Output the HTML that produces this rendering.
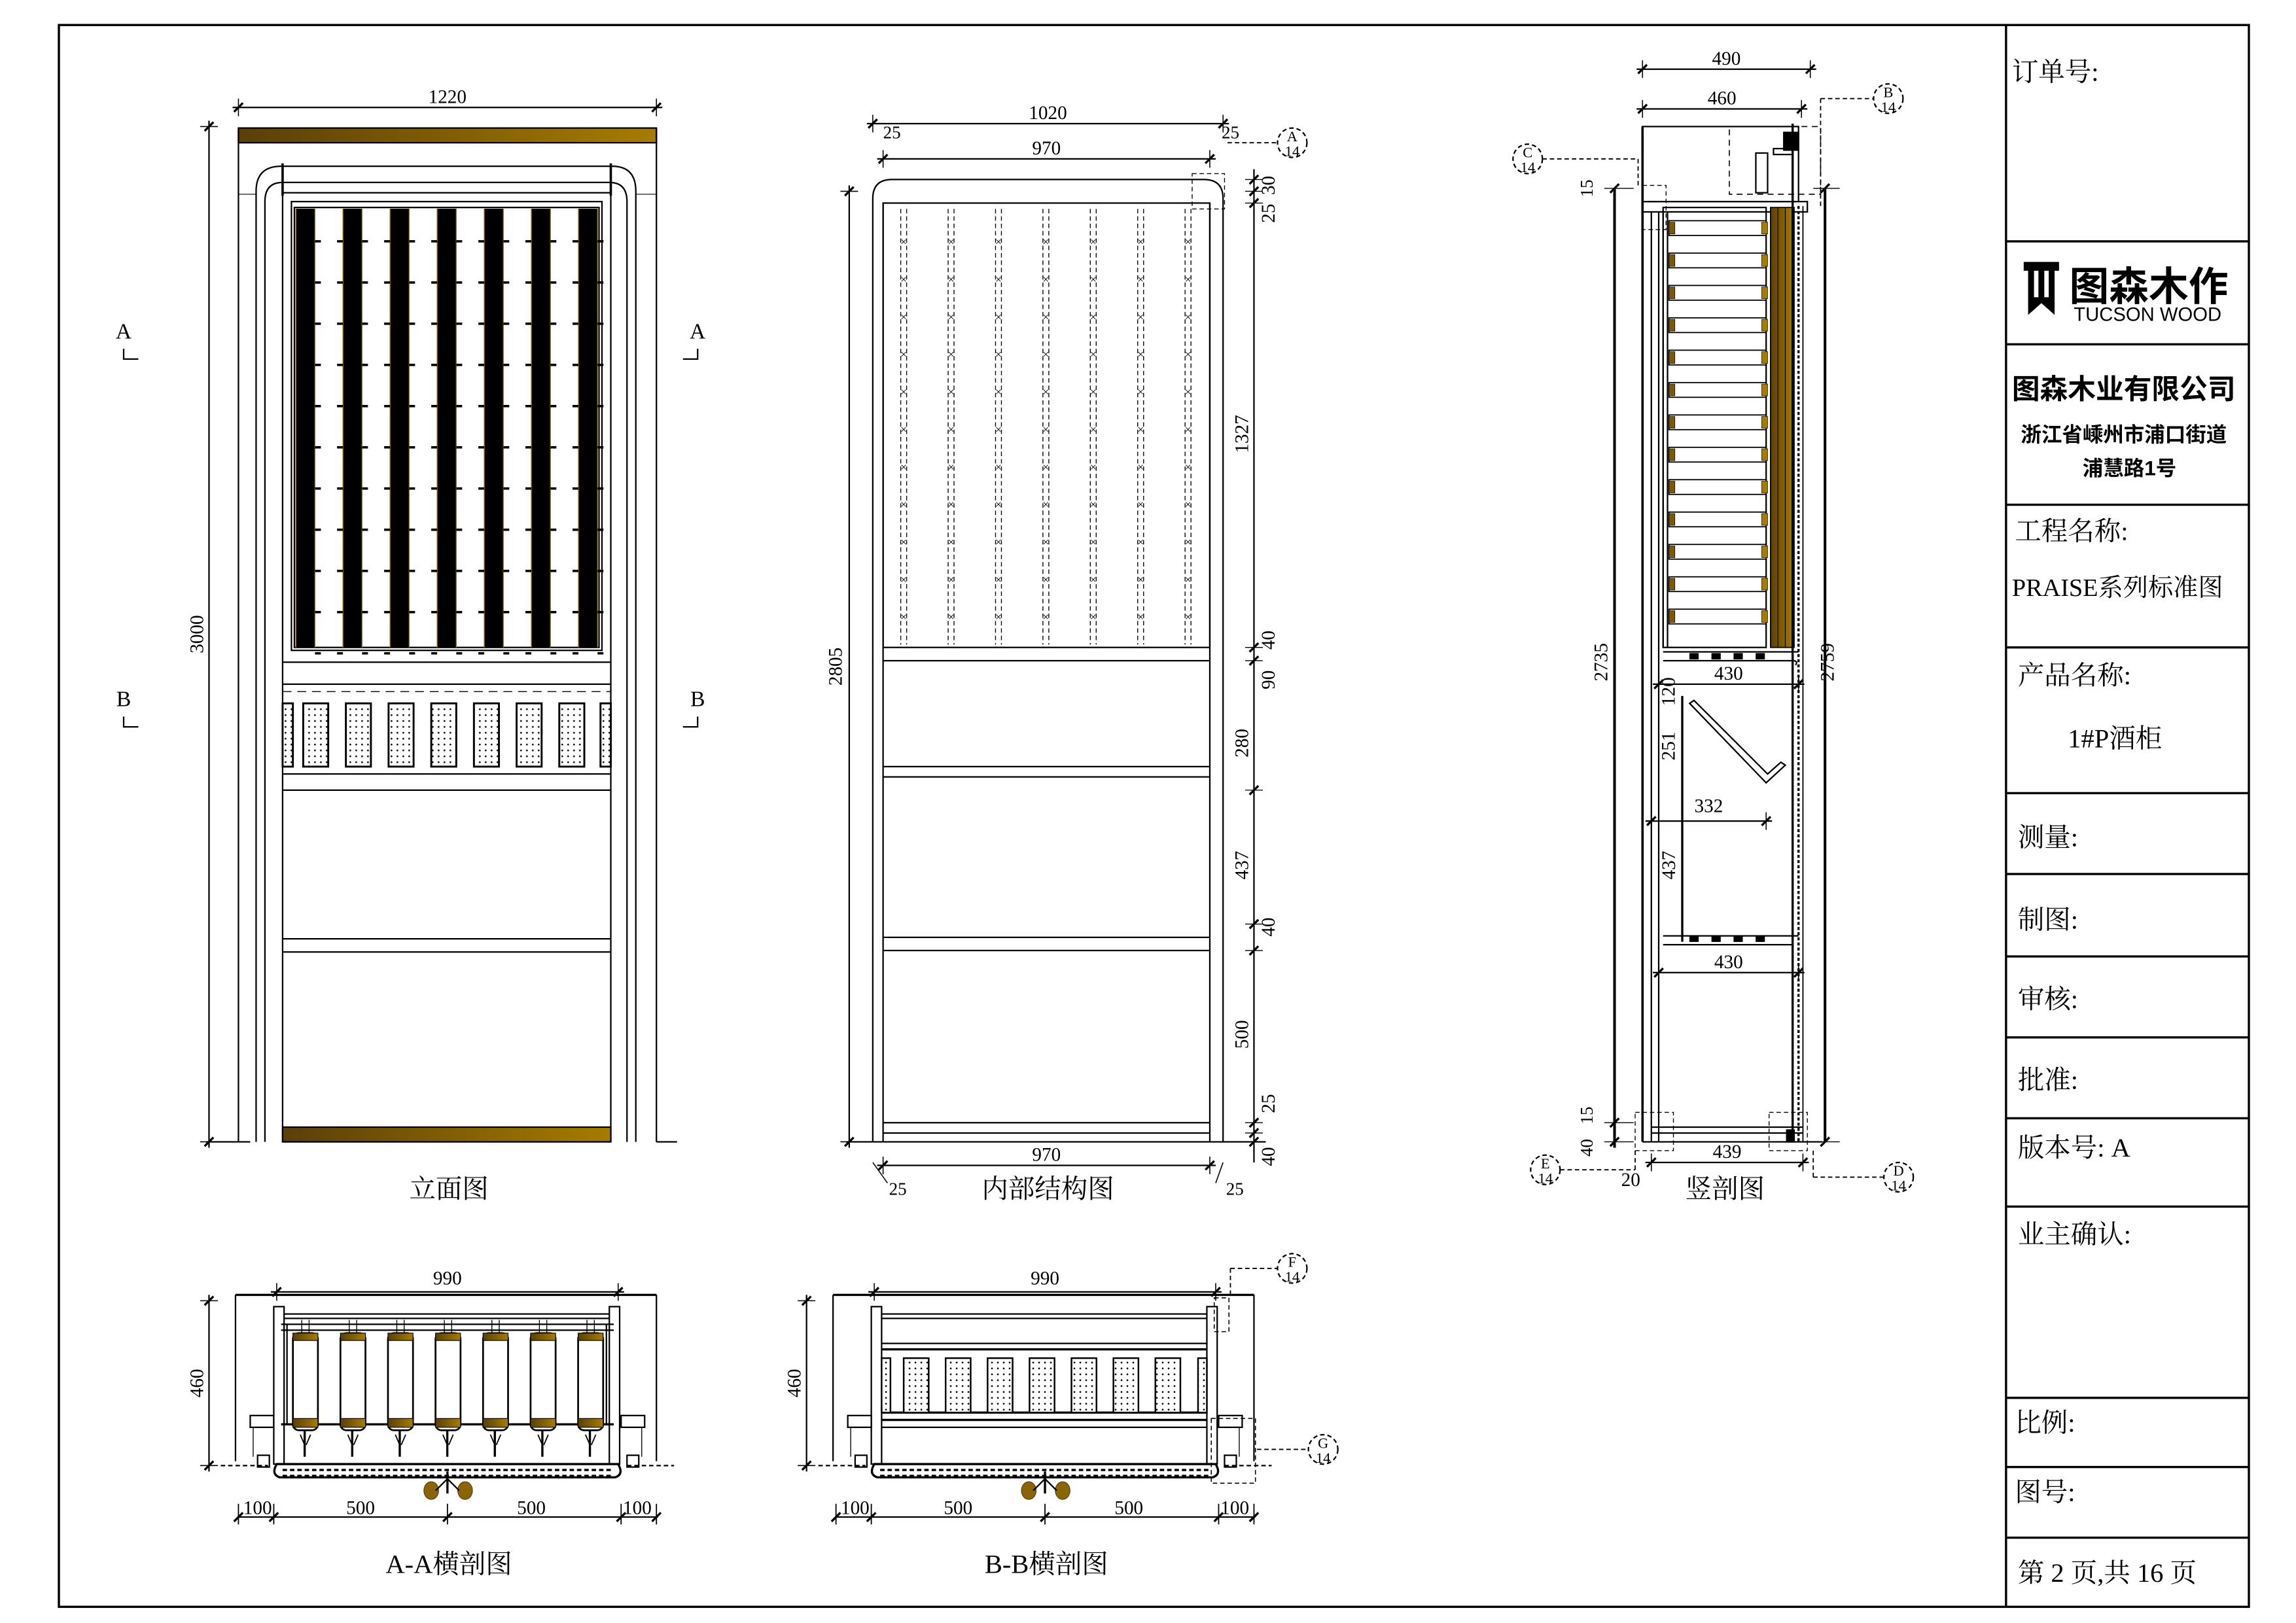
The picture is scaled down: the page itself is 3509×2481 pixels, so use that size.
<!DOCTYPE html>
<html><head><meta charset="utf-8"><style>
html,body{margin:0;padding:0;background:#fff}
svg{display:block}
text{font-family:"Liberation Serif","Noto Serif CJK SC",serif;fill:#000}
.cn{font-family:"Liberation Sans","Noto Sans CJK SC",sans-serif}
.sf{font-family:"Liberation Serif","Noto Serif CJK SC",serif}
</style></head><body>
<svg id="s" xmlns="http://www.w3.org/2000/svg" width="3509" height="2481" viewBox="0 0 1560 1103">
<defs>
<linearGradient id="g" x1="0" x2="1"><stop offset="0" stop-color="#5a3f0a"/><stop offset="1" stop-color="#a67c00"/></linearGradient>
<pattern id="dots" width="4" height="4" patternUnits="userSpaceOnUse"><rect width="4" height="4" fill="#fff"/><circle cx="2" cy="2" r="0.6" fill="#000"/></pattern>
</defs>
<rect x="0" y="0" width="1560" height="1103" fill="#fff"/>
<rect x="40" y="17" width="1488" height="1075" fill="none" stroke="#000" stroke-width="1.5"/>
<line x1="1363" y1="17" x2="1363" y2="1092" stroke="#000" stroke-width="1.5"/>
<g stroke="#000" stroke-width="1.5">
<line x1="1363" y1="164" x2="1528" y2="164"/><line x1="1363" y1="234" x2="1528" y2="234"/>
<line x1="1363" y1="343" x2="1528" y2="343"/><line x1="1363" y1="440" x2="1528" y2="440"/>
<line x1="1363" y1="539" x2="1528" y2="539"/><line x1="1363" y1="594" x2="1528" y2="594"/>
<line x1="1363" y1="650" x2="1528" y2="650"/><line x1="1363" y1="705" x2="1528" y2="705"/>
<line x1="1363" y1="760" x2="1528" y2="760"/><line x1="1363" y1="820" x2="1528" y2="820"/>
<line x1="1363" y1="950" x2="1528" y2="950"/><line x1="1363" y1="997" x2="1528" y2="997"/>
<line x1="1363" y1="1045" x2="1528" y2="1045"/>
</g>
<g font-size="18">
<text x="1367" y="55" class="sf">订单号:</text>
<text x="1369" y="367" class="sf">工程名称:</text>
<text x="1367" y="405" font-size="17" class="sf">PRAISE系列标准图</text>
<text x="1371" y="465" class="sf">产品名称:</text>
<text x="1405" y="508" class="sf">1#P酒柜</text>
<text x="1371" y="575" class="sf">测量:</text>
<text x="1371" y="631" class="sf">制图:</text>
<text x="1371" y="685" class="sf">审核:</text>
<text x="1371" y="740" class="sf">批准:</text>
<text x="1371" y="786" class="sf">版本号:  A</text>
<text x="1371" y="845" class="sf">业主确认:</text>
<text x="1369" y="973" class="sf">比例:</text>
<text x="1369" y="1020" class="sf">图号:</text>
<text x="1371" y="1075" class="sf">第 2 页,共 16 页</text>
</g>
<path d="M1375 178 h24 v6 h-3 v30 l-9 -8 l-9 8 v-30 h-3z M1382 184 v18 h3 v-18z M1389 184 v18 h3 v-18z" fill="#000"/>
<text x="1406" y="204" class="cn" font-size="27" font-weight="bold">图森木作</text>
<text x="1409" y="218" class="cn" font-size="13">TUCSON WOOD</text>
<text x="1367" y="271" class="cn" font-size="19" font-weight="bold">图森木业有限公司</text>
<text x="1373" y="300" class="cn" font-size="14" font-weight="bold">浙江省嵊州市浦口街道</text>
<text x="1415" y="323" class="cn" font-size="14" font-weight="bold">浦慧路1号</text>

<g id="draw" fill="none" stroke="#000" stroke-width="1"></g>
<g id="txt" font-size="12"></g>
</svg>
<script>
var d=document.getElementById('draw'),T=document.getElementById('txt'),NS='http://www.w3.org/2000/svg';
function E(t,a,p){var e=document.createElementNS(NS,t);for(var k in a)e.setAttribute(k,a[k]);(p||d).appendChild(e);return e}
function L(x1,y1,x2,y2,w,dash){var a={x1:x1,y1:y1,x2:x2,y2:y2};if(w)a['stroke-width']=w;if(dash)a['stroke-dasharray']=dash;return E('line',a)}
function R(x,y,w,h,f,sw){var a={x:x,y:y,width:w,height:h};if(f)a.fill=f;if(sw)a['stroke-width']=sw;return E('rect',a)}
function Tx(x,y,s,sz,rot,anchor,fam){var a={x:x,y:y,'font-size':sz||12,'text-anchor':anchor||'middle'};if(rot)a.transform='rotate(-90 '+x+' '+y+')';var e=E('text',a,T);e.textContent=s;return e}
function tick(x,y){L(x-3,y+3,x+3,y-3,1.5)}
function hdim(x1,x2,y,lab,ty){L(x1-4,y,x2+4,y);L(x1,y-6,x1,y+6,0.7);L(x2,y-6,x2,y+6,0.7);tick(x1,y);tick(x2,y);if(lab)Tx((x1+x2)/2,ty||y-3,lab,13)}
function vdim(x,y1,y2,lab,tx){L(x,y1-4,x,y2+4);L(x-6,y1,x+6,y1,0.7);L(x-6,y2,x+6,y2,0.7);tick(x,y1);tick(x,y2);if(lab)Tx(tx||x-4,(y1+y2)/2,lab,13,1)}

hdim(162,446,73,'1220');
vdim(142,86,776,'3000');
R(162,87,284,10,'url(#g)');
L(162,87,162,776);L(446,87,446,776);
L(162,132,174,132,0.5);L(432,132,446,132,0.5);
E('path',{d:'M174 776 V130 Q174 113 191 113 H416 Q432 113 432 130 V776'});
E('path',{d:'M180 776 V137 Q180 124 192 124 H414 Q426 124 426 137 V776'});
L(192,111,192,133,1.6);L(415,111,415,133,1.6);
R(192,131,223,645);R(198,137,211,305);R(200,141,207,299);
for(var i=0;i<7;i++){var bx=201+i*32;R(bx,142,13,298,'#000',0.3);L(bx,142,bx,440,0.6).setAttribute('stroke','#a67c00');L(bx+13,142,bx+13,440,0.6).setAttribute('stroke','#a67c00');
 for(var j=0;j<11;j++){var yy=164+j*28;L(bx+13,yy,bx+17,yy,1.6);if(i>0)L(bx-4,yy,bx,yy,1.6);}}
L(192,450,415,450);L(192,465,415,465);
L(192,470,415,470,0.6,'6 4');
for(var i=0;i<9;i++){var w=(i==0||i==8)?7:17,x=(i==0)?192:(i==8?408:206+(i-1)*29);R(x,478,w,43,'url(#dots)',1.3)}
L(192,526,415,526);L(192,537,415,537);L(192,638,415,638);L(192,647,415,647);
R(192,766,223,10,'url(#g)');
L(140,776,170,776);L(446,776,460,776);
Tx(84,230,'A',15);E('path',{d:'M84 237 v7 h10',fill:'none'});
Tx(474,230,'A',15);E('path',{d:'M474 237 v7 h-10'});
Tx(84,480,'B',15);E('path',{d:'M84 487 v7 h10'});
Tx(474,480,'B',15);E('path',{d:'M474 487 v7 h-10'});
Tx(305,814,'立面图',18);

hdim(593,831,84,'1020');
hdim(600,822,108,'970');
Tx(606,94,'25',12);Tx(836,94,'25',12);
vdim(577,130,776,'2805',572);
E('path',{d:'M593 776 V135 Q593 122 606 122 H818 Q831 122 831 135 V776'});
L(600,138,600,776);L(822,138,822,776);R(600,138,222,302);
for(var i=0;i<7;i++){var cx=614+i*32.2;L(cx-2,142,cx-2,438,0.6,'3 2');L(cx+2,142,cx+2,438,0.6,'3 2');
 for(var j=0;j<11;j++){var yy=164+j*25.5;Tx(cx,yy+3,'×',8)}}
R(810,118,22,24,null,0.6).setAttribute('stroke-dasharray','3 2');
L(600,449,822,449);L(600,521,822,521);L(600,528,822,528);L(600,637,822,637);L(600,646,822,646);L(600,763,822,763);L(600,770,822,770);
L(575,776,860,776);
L(852,115,852,790);
[[115,'30',126],[130,'25',145],[295,'1327',295],[435,'40',435],[462,'90',462],[505,'280',505],[588,'437',588],[630,'40',630],[703,'500',703],[750,'25',750],[786,'40',786]].forEach(function(a){Tx((a[1]=='1327'||a[1]=='280'||a[1]=='437'||a[1]=='500')?848:866,a[2],a[1],13,1)});
[122,130,138,440,449,537,628,646,763,770,776].forEach(function(y){tick(852,y);L(846,y,858,y,0.6)});
hdim(600,822,792,'970');
Tx(610,812,'25',12);Tx(839,812,'25',12);
L(593,790,603,804,0.7);L(831,790,826,804,0.7);
Tx(712,814,'内部结构图',18);
E('circle',{cx:878,cy:97,r:10,'stroke-dasharray':'3 2'});Tx(878,96,'A',10);Tx(878,106,'14',10);L(834,97,868,97,0.8,'3 2');

hdim(1116,1230,47,'490');hdim(1116,1224,74,'460');
R(1116,86,106,51);L(1116,86,1116,776,1.6);
R(1116,137,112,7);L(1122,144,1122,776);L(1127,144,1127,776);L(1130,144,1130,440);L(1133,144,1133,440);
R(1130,141,70,299);
for(var j=0;j<13;j++){var yy=150+j*22;R(1134,yy,66,10,'#fff',0.8);R(1134,yy+1,4,8,'#7a5a0a',0.3);R(1197,yy+1,4,8,'#a67c00',0.3)}
R(1203,141,16,299,'url(#g)',0.8);L(1208,141,1208,440,0.5);L(1213,141,1213,440,0.5);
L(1218,84,1218,776,1.5);L(1222,140,1222,776,1.5,'2 1.5');L(1225,140,1225,776,0.8);
R(1175,86,62,46,null,0.7).setAttribute('stroke-dasharray','4 3');
R(1212,90,10,12,'#000');R(1205,101,13,4);R(1193,104,8,27);
E('path',{d:'M1130 443 H1222 M1130 449 H1218 Q1222 449 1220 452'});
for(var k=0;k<4;k++){R(1148+k*15,444,6,4,'#000',0.3);R(1148+k*15,636,6,4,'#000',0.3)}
E('path',{d:'M1130 636 H1222 M1130 642 H1218'});
hdim(1127,1222,465,'430');hdim(1127,1222,661,'430');
E('path',{d:'M1148 478 L1200 532 L1213 520 L1210 518 L1201 526 L1151 476 Z'});
L(1143,473,1143,640,1.5);Tx(1138,470,'120',13,1);Tx(1138,507,'251',13,1);Tx(1138,588,'437',13,1);
hdim(1122,1200,558,'332',552);
L(1122,766,1225,766);L(1122,770,1225,770);L(1116,776,1238,776);
R(1214,768,5,8,'#000');
L(1097,128,1097,780,1.8);Tx(1092,450,'2735',13,1);
L(1240,128,1240,776,1.8);Tx(1246,450,'2759',13,1);
[128,763,776].forEach(function(y){tick(1097,y);L(1090,y,1110,y,0.6)});
tick(1240,128);tick(1240,776);L(1232,128,1250,128,0.6);L(1232,776,1250,776,0.6);
Tx(1082,128,'15',12,1);Tx(1082,758,'15',12,1);Tx(1082,780,'40',12,1);
hdim(1122,1225,790,'439');Tx(1108,806,'20',13);
Tx(1172,814,'竖剖图',18);
R(1116,126,16,30,null,0.6).setAttribute('stroke-dasharray','3 2');
R(1111,756,26,26,null,0.6).setAttribute('stroke-dasharray','3 2');
R(1202,756,26,26,null,0.6).setAttribute('stroke-dasharray','3 2');
function bub(cx,cy,l){E('circle',{cx:cx,cy:cy,r:10,'stroke-dasharray':'3 2'});Tx(cx,cy-1,l,10);Tx(cx,cy+9,'14',10)}
bub(1283,67,'B');L(1237,67,1273,67,0.8,'3 2');L(1237,67,1237,142,0.8,'3 2');
bub(1038,108,'C');L(1048,108,1113,108,0.8,'3 2');L(1113,108,1113,126,0.8,'3 2');
bub(1050,795,'E');L(1060,795,1111,795,0.8,'3 2');L(1111,782,1111,795,0.8,'3 2');
bub(1290,800,'D');L(1232,800,1280,800,0.8,'3 2');L(1232,782,1232,800,0.8,'3 2');

function sect(ox,aa){
 hdim(ox+26,ox+258,878,'990',873);
 vdim(ox-20,884,996,'460');
 L(ox-2,880,ox+284,880,1.5);L(ox-2,880,ox-2,993);L(ox+284,880,ox+284,993);
 R(ox+24,888,7,107);R(ox+252,888,7,107);
 L(ox+31,893,ox+252,893);L(ox+31,896,ox+252,896);
 R(ox+8,962,16,8);R(ox+260,962,16,8);L(ox+10,970,ox+10,990,0.6);L(ox+274,970,ox+274,990,0.6);
 R(ox+13,989,8,8);R(ox+264,989,8,8);
 L(ox-12,996,ox+20,996,1,'3 2');L(ox+264,996,ox+296,996,1,'3 2');
 E('path',{d:'M'+(ox+26)+' 995 H'+(ox+258)+' Q'+(ox+262)+' 1002 '+(ox+256)+' 1004 H'+(ox+28)+' Q'+(ox+22)+' 1002 '+(ox+26)+' 995 Z','stroke-width':1.5});
 L(ox+30,999,ox+254,999,1.5,'3 2');L(ox+30,1003,ox+254,1003,1.5,'3 2');
 if(aa){L(ox+29,900,ox+255,900);L(ox+29,904,ox+255,904);L(ox+29,968,ox+255,968,1.5);L(ox+33,900,ox+33,968);L(ox+250,900,ox+250,968);
  for(var i=0;i<7;i++){var bx=ox+37+i*32.3;R(bx,906,17,66,'#fff',1.2).setAttribute('rx',4);R(bx,906,17,5,'url(#g)',0.5);R(bx,964,17,6,'url(#g)',0.5);L(bx+6,897,bx+6,906,0.6);L(bx+11,897,bx+11,906,0.6);
   L(bx+8,972,bx+8,990,1.5);L(bx+5,975,bx+8,982,0.8);L(bx+12,975,bx+9,982,0.8);}}
 else{L(ox+31,913,ox+252,913);L(ox+31,917,ox+252,917,1.5);L(ox+31,960,ox+252,960,1.5);L(ox+31,965,ox+252,965,1.5);L(ox+31,970,ox+252,970);
  for(var i=0;i<9;i++){var w=(i==0||i==8)?6:17,x=(i==0)?ox+31:(i==8?ox+246:ox+46+(i-1)*28.5);R(x,923,w,37,'url(#dots)',1.1)}
  R(ox+257,882,10,23,null,0.7).setAttribute('stroke-dasharray','3 2');R(ox+255,964,30,44,null,0.7).setAttribute('stroke-dasharray','3 2');}
 L(ox+142,1000,ox+142,1015,1.5);
 E('ellipse',{cx:ox+131,cy:1013,rx:5,ry:6,fill:'#8a6508',stroke:'#5a3f0a','stroke-width':0.5});
 E('ellipse',{cx:ox+154,cy:1013,rx:5,ry:6,fill:'#8a6508',stroke:'#5a3f0a','stroke-width':0.5});
 L(ox+142,1005,ox+134,1013,1);L(ox+142,1005,ox+150,1013,1);
 L(ox,1031,ox+285,1031);[0,24,142,260,284].forEach(function(x){tick(ox+x,1031);L(ox+x,1022,ox+x,1036,0.8)});
 Tx(ox+13,1029,'100',13);Tx(ox+83,1029,'500',13);Tx(ox+199,1029,'500',13);Tx(ox+271,1029,'100',13);
}
sect(162,1);sect(568,0);
Tx(305,1069,'A-A横剖图',18);
Tx(711,1069,'B-B横剖图',18);
bub(878,862,'F');L(836,862,868,862,0.8,'3 2');L(836,862,836,882,0.8,'3 2');
bub(899,985,'G');L(854,985,889,985,0.8,'3 2');
</script>
</body></html>
